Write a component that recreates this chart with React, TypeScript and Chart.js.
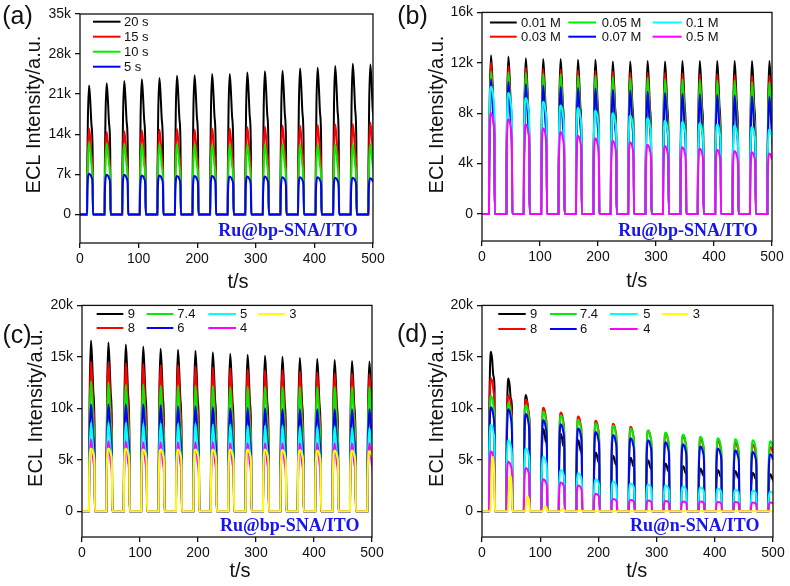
import React, { useEffect, useRef } from 'react';
import { Chart, registerables } from 'chart.js';
Chart.register(...registerables);

// ---------- shared data ----------
const pulseStarts = [12, 42, 72, 102, 132, 162, 192, 222, 252, 282, 312, 342, 372, 402, 432, 462, 492];
const xTicks = [0, 100, 200, 300, 400, 500];

// normalized pulse profiles [time offset (s), fraction of peak]
const sharpProfile = [[0, 0], [0.4, 0.35], [1.5, 0.75], [3.5, 1], [5.5, 0.88], [7.5, 0.7], [9.5, 0.5], [10.2, 0]];
const roundProfile = [[0, 0], [0.4, 0.5], [1.5, 0.88], [3.5, 1], [6, 0.97], [8, 0.9], [9.5, 0.75], [10.2, 0]];
const shoulderProfile = [[0, 0], [0.4, 0.5], [1.5, 0.85], [3.5, 1], [5.5, 0.95], [7.5, 0.85], [9.5, 0.78], [10.2, 0]];
const lateProfile = [[0, 0], [2.5, 0], [3.8, 0.45], [5.5, 0.95], [7, 1], [8.5, 0.8], [9.8, 0.3], [10.3, 0]];

// ---------- panel (a) ----------
const aLabels = ['20 s', '15 s', '10 s', '5 s'];
const a20s = [22500, 22900, 23300, 23600, 23800, 24200, 24300, 24500, 24500, 24800, 25000, 25100, 25500, 25600, 25900, 26300, 26200];
const a15s = [15000, 14400, 14500, 14700, 14800, 14900, 14800, 15000, 15000, 15200, 15300, 15500, 15500, 15600, 15700, 15800, 16000];
const a10s = [12600, 12400, 12300, 12300, 12300, 12300, 12200, 12200, 12200, 12200, 12200, 12200, 12200, 12200, 12200, 12200, 12200];
const a5s = [7100, 6900, 6900, 6800, 6800, 6700, 6700, 6700, 6600, 6600, 6600, 6500, 6500, 6500, 6400, 6400, 6300];
const aYTicks = [0, 7000, 14000, 21000, 28000, 35000];

// ---------- panel (b) ----------
const bLabels = ['0.01 M', '0.03 M', '0.05 M', '0.07 M', '0.1 M', '0.5 M'];
const b001 = [12600, 12500, 12350, 12300, 12300, 12250, 12250, 12100, 12100, 12150, 12100, 12150, 12150, 12150, 12150, 12150, 12150];
const b003 = [12050, 11750, 11600, 11500, 11450, 11400, 11350, 11300, 11250, 11200, 11200, 11150, 11100, 11100, 11050, 11000, 11000];
const b005 = [11300, 11250, 11200, 11100, 11100, 11000, 11000, 10900, 10800, 10800, 10700, 10700, 10650, 10600, 10600, 10500, 10450];
const b007 = [10700, 10500, 10300, 10200, 10100, 10000, 9950, 9850, 9800, 9700, 9600, 9550, 9500, 9450, 9400, 9350, 9300];
const b01 = [10100, 9600, 9200, 8900, 8600, 8400, 8200, 8000, 7800, 7600, 7400, 7300, 7200, 7100, 7000, 6900, 6700];
const b05 = [8000, 7500, 7100, 6800, 6500, 6200, 6000, 5800, 5700, 5500, 5400, 5300, 5200, 5100, 5000, 4900, 4800];
const bYTicks = [0, 4000, 8000, 12000, 16000];

// ---------- panel (c) ----------
const phLabels = ['9', '8', '7.4', '6', '5', '4', '3'];
const c9 = [16600, 16400, 16200, 16000, 15800, 15700, 15600, 15450, 15300, 15200, 15100, 15000, 14900, 14800, 14700, 14600, 14550];
const c8 = [14550, 14500, 14400, 14300, 14200, 14200, 14100, 14000, 13900, 13800, 13700, 13700, 13600, 13500, 13400, 13400, 13300];
const c74 = [12600, 12500, 12300, 12300, 12200, 12200, 12200, 12200, 12100, 12100, 12100, 12100, 12100, 12100, 12100, 12100, 12100];
const c6 = [10400, 10400, 10400, 10400, 10300, 10200, 10200, 10100, 10000, 10000, 10000, 9900, 9900, 9900, 9900, 9900, 9900];
const c5 = [8600, 8600, 8600, 8500, 8500, 8500, 8500, 8400, 8400, 8300, 8300, 8300, 8200, 8200, 8200, 8100, 8100];
const c4 = [7000, 6800, 6800, 6700, 6700, 6700, 6700, 6700, 6600, 6600, 6600, 6600, 6600, 6600, 6600, 6600, 6600];
const c3 = [6100, 6100, 6100, 6000, 6000, 6000, 6000, 6000, 6000, 6000, 6000, 5950, 5950, 5900, 5900, 5900, 5850];
const cdYTicks = [0, 5000, 10000, 15000, 20000];

// ---------- panel (d) ----------
const d9 = [15500, 12900, 11300, 8000, 7500, 6900, 5700, 5400, 5200, 4950, 4650, 4400, 4150, 4000, 3900, 3750, 3600];
const d8 = [12900, 11250, 10850, 10050, 9600, 9200, 8800, 8500, 8200, 7850, 7550, 7300, 7050, 6850, 6650, 6450, 6250];
const d74 = [11200, 10500, 10300, 9700, 9300, 8900, 8550, 8300, 8050, 7850, 7650, 7450, 7250, 7100, 7000, 6900, 6800];
const d6 = [10100, 9900, 9450, 8850, 8450, 8050, 7700, 7400, 7100, 6900, 6700, 6500, 6300, 6100, 5900, 5750, 5550];
const d5 = [8400, 6900, 6100, 5300, 4000, 3700, 3100, 2900, 2700, 2600, 2500, 2400, 2300, 2200, 2100, 2000, 1900];
const d4 = [5800, 4800, 4200, 3100, 2800, 2500, 1700, 1200, 1100, 1050, 1000, 950, 950, 900, 900, 850, 850];
const d3 = [5300, 3500, 1400, 500, 200, 100, 0, 0, 0, 0, 0, 0, 0, 0, 0, 0, 0];

// ---------- styling / layout ----------
const SANS = "'Liberation Sans', Arial, sans-serif";
const SERIF = "'Liberation Serif', 'Times New Roman', serif";
const BLACK = '#000000', RED = '#ff0000', GREEN = '#00ee00', BLUE = '#0000ff', CYAN = '#00ffff', MAGENTA = '#ff00ff', YELLOW = '#ffff00';

type Series = { label: string; color: string; peaks: number[]; profile: number[][] };
type Panel = {
  key: string; left: number; top: number; yw: number; pt: number; pr: number; xh: number;
  yMin: number; yMax: number; yTicks: number[]; series: Series[];
  tag: string; tagPos: [number, number]; yTitlePos: [number, number]; xTitlePos: [number, number];
  note: string; notePos: [number, number];
  legendCols: [number, number, number][]; legendRows: number[];
};

const panels: Panel[] = [
  {
    key: 'a', left: 0, top: 0, yw: 80, pt: 14, pr: 22, xh: 50, yMin: -5000, yMax: 35000, yTicks: aYTicks,
    series: [
      { label: aLabels[0], color: BLACK, peaks: a20s, profile: sharpProfile },
      { label: aLabels[1], color: RED, peaks: a15s, profile: sharpProfile },
      { label: aLabels[2], color: GREEN, peaks: a10s, profile: sharpProfile },
      { label: aLabels[3], color: BLUE, peaks: a5s, profile: roundProfile },
    ],
    tag: '(a)', tagPos: [17.5, 17.5], yTitlePos: [34, 114.5], xTitlePos: [238, 282.7],
    note: 'Ru@bp-SNA/ITO', notePos: [218.3, 231],
    legendCols: [[93, 120.5, 124]], legendRows: [21.7, 36.7, 51.7, 66.7],
  },
  {
    key: 'b', left: 395, top: 0, yw: 87, pt: 9, pr: 18, xh: 52, yMin: -2150, yMax: 16000, yTicks: bYTicks,
    series: [
      { label: bLabels[0], color: BLACK, peaks: b001, profile: sharpProfile },
      { label: bLabels[1], color: RED, peaks: b003, profile: sharpProfile },
      { label: bLabels[2], color: GREEN, peaks: b005, profile: sharpProfile },
      { label: bLabels[3], color: BLUE, peaks: b007, profile: sharpProfile },
      { label: bLabels[4], color: CYAN, peaks: b01, profile: roundProfile },
      { label: bLabels[5], color: MAGENTA, peaks: b05, profile: roundProfile },
    ],
    tag: '(b)', tagPos: [17.5, 17.5], yTitlePos: [42.5, 114.5], xTitlePos: [241.7, 281],
    note: 'Ru@bp-SNA/ITO', notePos: [223.3, 231],
    legendCols: [[95, 121.7, 126], [173.3, 201, 206.7], [257.7, 286.7, 291]], legendRows: [22.5, 36.7],
  },
  {
    key: 'c', left: 0, top: 293, yw: 82, pt: 10, pr: 23, xh: 49, yMin: -2500, yMax: 20000, yTicks: cdYTicks,
    series: [
      { label: phLabels[0], color: BLACK, peaks: c9, profile: sharpProfile },
      { label: phLabels[1], color: RED, peaks: c8, profile: sharpProfile },
      { label: phLabels[2], color: GREEN, peaks: c74, profile: sharpProfile },
      { label: phLabels[3], color: BLUE, peaks: c6, profile: sharpProfile },
      { label: phLabels[4], color: CYAN, peaks: c5, profile: sharpProfile },
      { label: phLabels[5], color: MAGENTA, peaks: c4, profile: sharpProfile },
      { label: phLabels[6], color: YELLOW, peaks: c3, profile: roundProfile },
    ],
    tag: '(c)', tagPos: [17, 43.5], yTitlePos: [36.7, 115], xTitlePos: [240, 278.3],
    note: 'Ru@bp-SNA/ITO', notePos: [220, 233.3],
    legendCols: [[96.7, 123.3, 127.7], [146.7, 173.3, 177.3], [208.3, 236, 240], [258.3, 285, 289.3]], legendRows: [21, 35],
  },
  {
    key: 'd', left: 395, top: 293, yw: 87, pt: 10, pr: 17, xh: 49, yMin: -2500, yMax: 20000, yTicks: cdYTicks,
    series: [
      { label: phLabels[0], color: BLACK, peaks: d9, profile: shoulderProfile },
      { label: phLabels[1], color: RED, peaks: d8, profile: roundProfile },
      { label: phLabels[2], color: GREEN, peaks: d74, profile: roundProfile },
      { label: phLabels[3], color: BLUE, peaks: d6, profile: roundProfile },
      { label: phLabels[4], color: CYAN, peaks: d5, profile: roundProfile },
      { label: phLabels[5], color: MAGENTA, peaks: d4, profile: roundProfile },
      { label: phLabels[6], color: YELLOW, peaks: d3, profile: lateProfile },
    ],
    tag: '(d)', tagPos: [17.3, 42.5], yTitlePos: [42.5, 115], xTitlePos: [241.7, 278.3],
    note: 'Ru@n-SNA/ITO', notePos: [235, 233.3],
    legendCols: [[103.3, 130.7, 135], [155, 181.7, 185], [215, 242.7, 248.3], [266.7, 293.3, 297.7]], legendRows: [21, 36],
  },
];

function buildPoints(peaks: number[], profile: number[][]) {
  const pts: { x: number; y: number }[] = [{ x: 0, y: 0 }];
  pulseStarts.forEach((s, k) => {
    profile.forEach(([dt, f]) => pts.push({ x: s + dt, y: f * peaks[k] }));
  });
  return pts;
}

function makeDecor(p: Panel) {
  return {
    id: 'decor_' + p.key,
    afterDraw(chart: any) {
      const ctx = chart.ctx as CanvasRenderingContext2D;
      const ca = chart.chartArea;
      ctx.save();
      // frame
      ctx.strokeStyle = '#111';
      ctx.lineWidth = 1.3;
      ctx.strokeRect(ca.left, ca.top, ca.right - ca.left, ca.bottom - ca.top);
      // legend
      const nRows = p.legendRows.length;
      ctx.font = `13px ${SANS}`;
      ctx.textBaseline = 'middle';
      ctx.textAlign = 'left';
      p.series.forEach((s, i) => {
        const col = p.legendCols[Math.floor(i / nRows)];
        const y = p.legendRows[i % nRows];
        ctx.strokeStyle = s.color;
        ctx.lineWidth = 2;
        ctx.beginPath();
        ctx.moveTo(col[0], y);
        ctx.lineTo(col[1], y);
        ctx.stroke();
        ctx.fillStyle = '#111';
        ctx.fillText(s.label, col[2], y + 0.5);
      });
      // panel tag
      ctx.fillStyle = '#111';
      ctx.font = `25px ${SANS}`;
      ctx.textAlign = 'center';
      ctx.fillText(p.tag, p.tagPos[0], p.tagPos[1]);
      // axis titles
      ctx.font = `20px ${SANS}`;
      ctx.fillText('t/s', p.xTitlePos[0], p.xTitlePos[1]);
      ctx.save();
      ctx.translate(p.yTitlePos[0], p.yTitlePos[1]);
      ctx.rotate(-Math.PI / 2);
      ctx.fillText('ECL Intensity/a.u.', 0, 0);
      ctx.restore();
      // annotation
      ctx.fillStyle = '#1414f0';
      ctx.font = `bold 18px ${SERIF}`;
      ctx.textAlign = 'left';
      ctx.fillText(p.note, p.notePos[0], p.notePos[1]);
      ctx.restore();
    },
  };
}

function PanelChart({ p }: { p: Panel }) {
  const ref = useRef<HTMLCanvasElement | null>(null);
  useEffect(() => {
    if (!ref.current) return;
    const n = p.series.length;
    const tickFont = { family: SANS, size: 14 };
    const chart = new Chart(ref.current, {
      type: 'line',
      data: {
        datasets: p.series.map((s, i) => ({
          label: s.label,
          data: buildPoints(s.peaks, s.profile),
          borderColor: s.color,
          backgroundColor: s.color,
          borderWidth: 2,
          pointRadius: 0,
          fill: false,
          cubicInterpolationMode: 'monotone' as const,
          order: n - 1 - i,
        })),
      },
      options: {
        animation: false,
        responsive: false,
        maintainAspectRatio: false,
        layout: { padding: { left: 0, top: p.pt, right: p.pr, bottom: 0 } },
        plugins: { legend: { display: false }, tooltip: { enabled: false } },
        scales: {
          x: {
            type: 'linear',
            min: 0,
            max: 500,
            afterBuildTicks: (sc: any) => { sc.ticks = xTicks.map((v) => ({ value: v })); },
            afterFit: (sc: any) => { sc.height = p.xh; },
            ticks: { font: tickFont, color: '#111', padding: 3, maxRotation: 0, autoSkip: false },
            grid: { display: true, drawOnChartArea: false, drawTicks: true, tickLength: 5, color: '#111', lineWidth: 1.3 },
            border: { display: false },
          },
          y: {
            type: 'linear',
            min: p.yMin,
            max: p.yMax,
            afterBuildTicks: (sc: any) => { sc.ticks = p.yTicks.map((v) => ({ value: v })); },
            afterFit: (sc: any) => { sc.width = p.yw; },
            ticks: {
              font: tickFont, color: '#111', padding: 4, autoSkip: false,
              callback: (v: any) => (Number(v) === 0 ? '0' : Number(v) / 1000 + 'k'),
            },
            grid: { display: true, drawOnChartArea: false, drawTicks: true, tickLength: 5, color: '#111', lineWidth: 1.3 },
            border: { display: false },
          },
        },
      },
      plugins: [makeDecor(p)],
    } as any);
    return () => chart.destroy();
  }, [p]);
  return (
    <canvas
      ref={ref}
      width={395}
      height={293}
      style={{ position: 'absolute', left: p.left, top: p.top, width: 395, height: 293 }}
    />
  );
}

export default function App() {
  return (
    <div style={{ position: 'absolute', left: 0, top: 0, width: 790, height: 586, background: '#fff' }}>
      {panels.map((p) => (
        <PanelChart key={p.key} p={p} />
      ))}
    </div>
  );
}
